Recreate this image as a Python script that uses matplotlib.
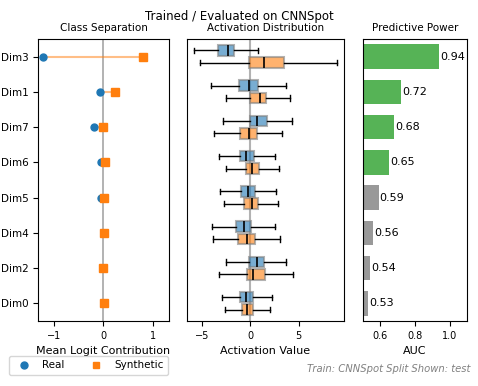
import numpy as np
import matplotlib
matplotlib.use("Agg")
import matplotlib.pyplot as plt
from matplotlib.lines import Line2D

# dims, sorted by AUC (top to bottom)
dims = ["Dim3", "Dim1", "Dim7", "Dim6", "Dim5", "Dim4", "Dim2", "Dim0"]

# mean logit contribution per class
real_logit = [-1.22, -0.08, -0.20, -0.06, -0.05, 0.02, -0.01, 0.01]
synth_logit = [0.80, 0.23, -0.01, 0.03, 0.01, 0.02, -0.01, 0.01]

# activation box stats: whislo, q1, median, q3, whishi
real_whislo = [-5.81, -4.06, -2.79, -3.27, -3.16, -3.96, -2.51, -2.96]
real_q1 = [-3.30, -1.17, -0.07, -1.10, -0.97, -1.45, -0.14, -1.04]
real_med = [-2.31, -0.18, 0.72, -0.42, -0.21, -0.66, 0.69, -0.45]
real_q3 = [-1.69, 0.79, 1.68, 0.37, 0.48, 0.10, 1.37, 0.27]
real_whishi = [0.79, 3.71, 4.33, 2.57, 2.68, 2.57, 3.71, 2.20]

synth_whislo = [-5.23, -2.51, -3.71, -2.55, -2.68, -3.89, -3.23, -2.62]
synth_q1 = [-0.18, 0.00, -1.07, -0.42, -0.62, -1.24, -0.35, -0.83]
synth_med = [1.41, 0.96, -0.14, 0.17, 0.17, -0.31, 0.27, -0.31]
synth_q3 = [3.50, 1.65, 0.69, 0.89, 0.79, 0.48, 1.51, 0.27]
synth_whishi = [8.93, 4.12, 3.30, 2.95, 2.85, 3.05, 4.43, 1.99]

# predictive power
auc = [0.94, 0.72, 0.68, 0.65, 0.59, 0.56, 0.54, 0.53]

c_real = "tab:blue"
c_synth = "tab:orange"

fig = plt.figure(figsize=(4.78, 3.86), dpi=100)
ax1 = fig.add_axes([0.0795, 0.1684, 0.274, 0.7306])
ax2 = fig.add_axes([0.391, 0.1684, 0.3285, 0.7306])
ax3 = fig.add_axes([0.7594, 0.1684, 0.2176, 0.7306])

n = len(dims)
y = np.arange(n)[::-1]

# class separation
ax1.axvline(0, color="gray", lw=1.2, alpha=0.7, zorder=0)
for i in range(n):
    ax1.plot([real_logit[i], synth_logit[i]], [y[i], y[i]], color=c_synth, alpha=0.5, lw=1.5, zorder=1)
ax1.plot(real_logit, y, "o", color=c_real, ms=5, zorder=2)
ax1.plot(synth_logit, y, "s", color=c_synth, ms=6, zorder=3)
ax1.set_yticks(y)
ax1.set_yticklabels(dims, fontsize=7.5)
ax1.set_xlim(-1.33, 1.33)
ax1.set_ylim(-0.5, n - 0.5)
ax1.set_xticks([-1, 0, 1])
ax1.tick_params(axis="x", labelsize=7)
ax1.set_xlabel("Mean Logit Contribution", fontsize=8)
ax1.set_title("Class Separation", fontsize=7.5)

# activation distribution
def make_stats(lo, q1, med, q3, hi):
    return [dict(whislo=lo[i], q1=q1[i], med=med[i], q3=q3[i], whishi=hi[i], fliers=[])
            for i in range(n)]

ax2.axvline(0, color="gray", lw=1.5, alpha=0.6, zorder=0)
for stats, off, col in [(make_stats(real_whislo, real_q1, real_med, real_q3, real_whishi), 0.175, c_real),
                        (make_stats(synth_whislo, synth_q1, synth_med, synth_q3, synth_whishi), -0.175, c_synth)]:
    ax2.bxp(stats, positions=y + off, widths=0.3, vert=False, patch_artist=True,
            showfliers=False, manage_ticks=False,
            boxprops=dict(facecolor=col, alpha=0.6, edgecolor="gray", lw=1.5),
            medianprops=dict(color="black", lw=1.2),
            whiskerprops=dict(color="black", lw=1),
            capprops=dict(color="black", lw=1))
ax2.set_ylim(-0.5, n - 0.5)
ax2.set_xlim(-6.54, 9.67)
ax2.set_yticks([])
ax2.set_xticks([-5, 0, 5])
ax2.tick_params(axis="x", labelsize=7)
ax2.set_xlabel("Activation Value", fontsize=8)
ax2.set_title("Activation Distribution", fontsize=7.5)

# predictive power
bar_cols = ["tab:green" if a >= 0.6 else "gray" for a in auc]
ax3.barh(y, auc, height=0.7, color=bar_cols, alpha=0.8)
for i in range(n):
    ax3.text(auc[i] + 0.005, y[i], f"{auc[i]:.2f}", va="center", ha="left", fontsize=8)
ax3.set_xlim(0.5, 1.1)
ax3.set_ylim(-0.5, n - 0.5)
ax3.set_yticks([])
ax3.set_xticks([0.6, 0.8, 1.0])
ax3.tick_params(axis="x", labelsize=7)
ax3.set_xlabel("AUC", fontsize=8)
ax3.set_title("Predictive Power", fontsize=7.5)

fig.suptitle("Trained / Evaluated on CNNSpot", fontsize=8.5, y=0.975)

handles = [Line2D([], [], marker="o", ls="", color=c_real, ms=5, label="Real"),
           Line2D([], [], marker="s", ls="", color=c_synth, ms=5, label="Synthetic")]
fig.legend(handles=handles, loc="lower left", bbox_to_anchor=(0.008, 0.016), ncol=2,
           fontsize=7.5, frameon=True)
fig.text(0.985, 0.043, "Train: CNNSpot Split Shown: test", ha="right", va="center",
         fontsize=7.2, style="italic", color="gray")

fig.savefig("out.png", dpi=100)
